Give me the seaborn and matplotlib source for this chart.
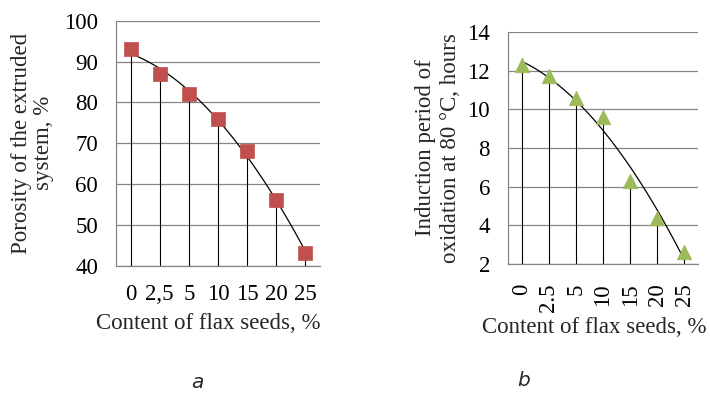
import matplotlib
matplotlib.use("Agg")
import matplotlib.pyplot as plt
import seaborn as sns
import numpy as np

# ---- data ----
categories_a = ["0", "2,5", "5", "10", "15", "20", "25"]
porosity = [93, 87, 82, 76, 68, 56, 43]
categories_b = ["0", "2.5", "5", "10", "15", "20", "25"]
induction = [12.3, 11.7, 10.6, 9.6, 6.3, 4.4, 2.6]
yticks_a = [40, 50, 60, 70, 80, 90, 100]
yticks_b = [2, 4, 6, 8, 10, 12, 14]

sns.set_theme(style="white")
plt.rcParams['font.family'] = ['Liberation Serif', 'DejaVu Serif']

GRID = "#868686"
FS = 16.5

fig = plt.figure(figsize=(7.1, 3.93), dpi=100)
ax1 = fig.add_axes([116/710, 1-265.7/393, 204/710, 245/393])
ax2 = fig.add_axes([508/710, 1-264/393, 190/710, 232/393])


def draw(ax, cats, vals, yticks, marker, color, msize):
    pos = np.arange(len(cats))
    ax.set_ylim(yticks[0], yticks[-1])
    ax.set_xlim(-0.5, len(cats) - 0.5)
    ax.set_yticks(yticks)
    ax.yaxis.grid(True, color=GRID, linewidth=0.9)
    ax.set_axisbelow(True)
    ax.vlines(pos, yticks[0], vals, color="black", linewidth=0.8, zorder=2)
    sns.regplot(x=pos, y=np.array(vals, dtype=float), order=2, ci=None,
                scatter=False, truncate=True, ax=ax,
                line_kws=dict(color="black", linewidth=0.9, zorder=3))
    sns.scatterplot(x=pos, y=vals, marker=marker, color=color, s=msize,
                    edgecolor=color, linewidth=0.5, ax=ax, zorder=4)
    ax.set_xticks(pos)
    for s in ["top", "right"]:
        ax.spines[s].set_visible(False)
    for s in ["left", "bottom"]:
        ax.spines[s].set_color(GRID)
        ax.spines[s].set_linewidth(0.9)
    ax.tick_params(axis="both", length=0, labelsize=FS, colors="black")
    ax.tick_params(axis="y", pad=13)
    return pos


draw(ax1, categories_a, porosity, yticks_a, "s", "#C0504D", 100)
ax1.set_xticklabels(categories_a)
ax1.tick_params(axis="x", pad=13)
ax1.set_ylabel("Porosity of the extruded\nsystem, %", fontsize=FS, va="center",
               linespacing=1.05)
ax1.yaxis.set_label_coords(-0.41, 0.5)
ax1.set_xlabel("Content of flax seeds, %", fontsize=FS, va="center")
ax1.xaxis.set_label_coords(0.45, -0.235)

draw(ax2, categories_b, induction, yticks_b, "^", "#9BBB59", 110)
ax2.set_xticklabels(categories_b, rotation=90, va="top", ha="center")
ax2.tick_params(axis="x", pad=14)
ax2.set_ylabel("Induction period of\noxidation at 80 °C, hours", fontsize=FS,
               va="center", linespacing=1.25)
ax2.yaxis.set_label_coords(-0.368, 0.5)
ax2.set_xlabel("Content of flax seeds, %", fontsize=FS, va="center")
ax2.xaxis.set_label_coords(0.455, -0.275)

fig.text(197/710, 1-382/393, "a", fontsize=14.5, style="italic",
         family="DejaVu Sans", ha="center", va="center")
fig.text(524/710, 1-381/393, "b", fontsize=14.5, style="italic",
         family="DejaVu Sans", ha="center", va="center")

fig.savefig("out.png", dpi=100)
